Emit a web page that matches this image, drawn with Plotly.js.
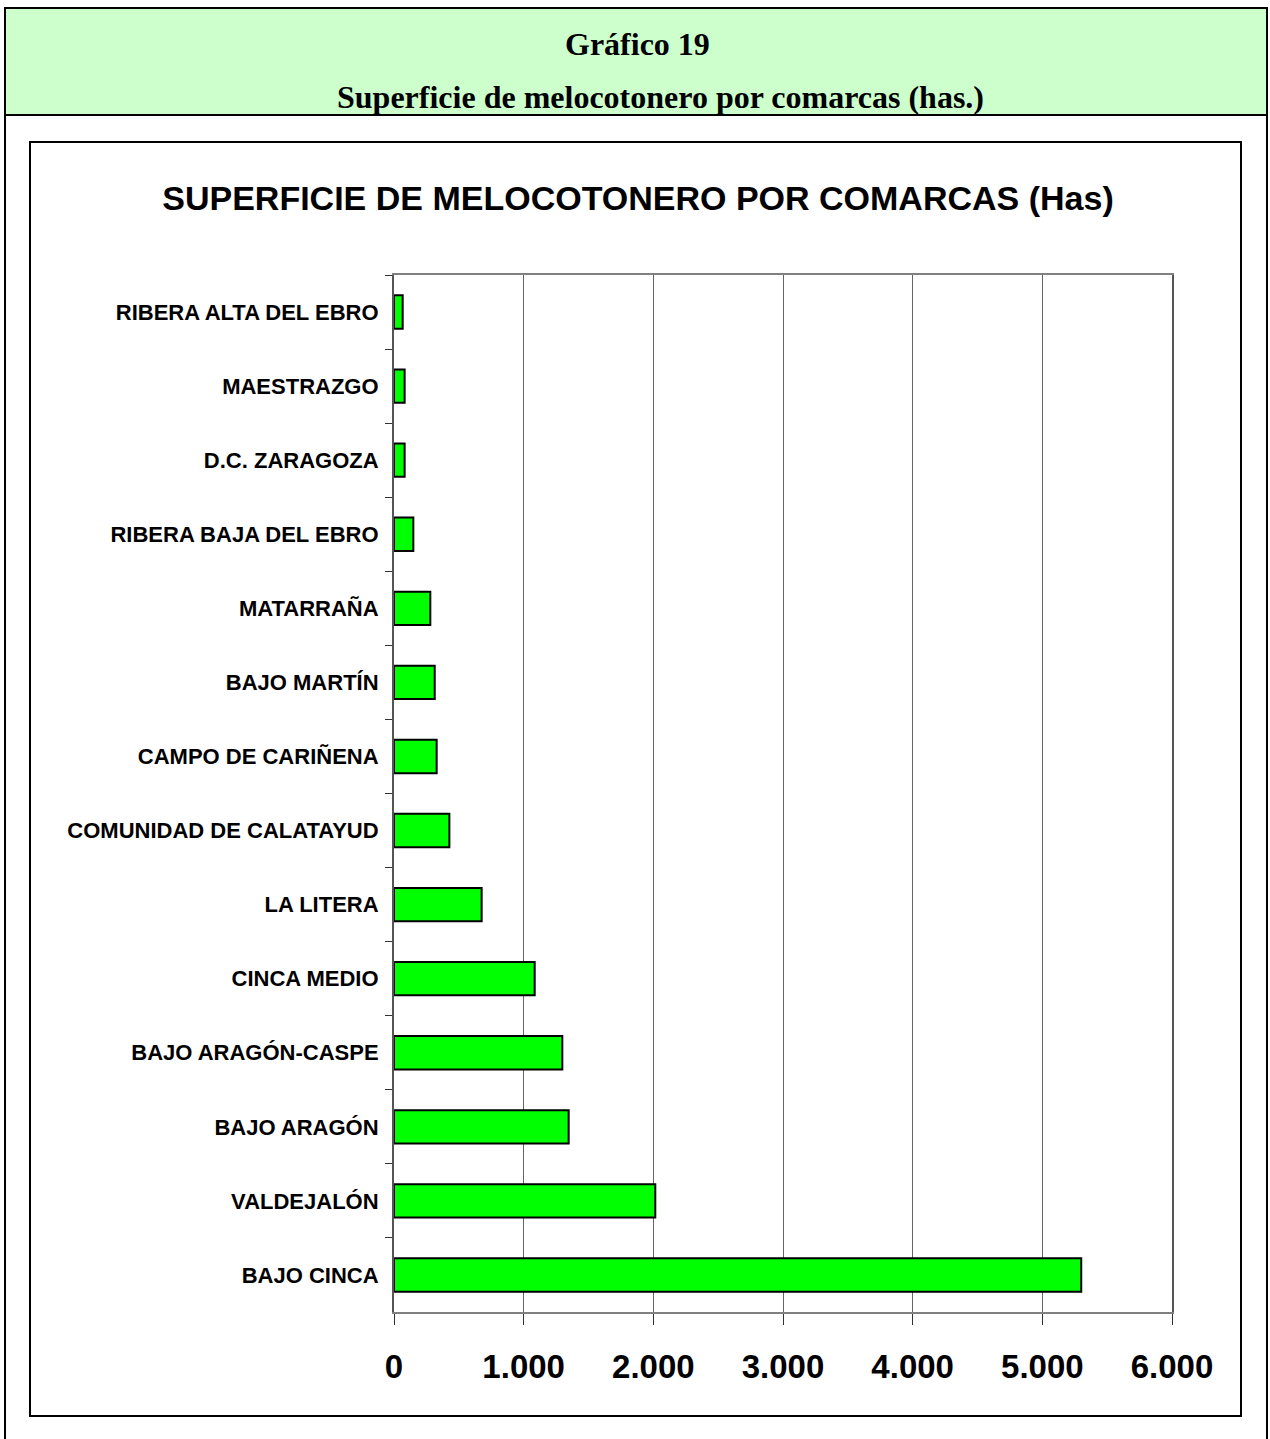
<!DOCTYPE html>
<html>
<head>
<meta charset="utf-8">
<script src="https://cdn.plot.ly/plotly-3.0.1.min.js"></script>
<style>
  html, body { margin: 0; padding: 0; background: #ffffff; }
  #chart { width: 1270px; height: 1439px; }
</style>
</head>
<body>
<div id="chart"></div>
<script>
// ---- Data ----
const comarcas = [
  "RIBERA ALTA DEL EBRO",
  "MAESTRAZGO",
  "D.C. ZARAGOZA",
  "RIBERA BAJA DEL EBRO",
  "MATARRAÑA",
  "BAJO MARTÍN",
  "CAMPO DE CARIÑENA",
  "COMUNIDAD DE CALATAYUD",
  "LA LITERA",
  "CINCA MEDIO",
  "BAJO ARAGÓN-CASPE",
  "BAJO ARAGÓN",
  "VALDEJALÓN",
  "BAJO CINCA"
];
const superficieHas = [67, 82, 82, 149, 280, 314, 329, 427, 676, 1085, 1298, 1347, 2015, 5300];
const xTickValues = [0, 1000, 2000, 3000, 4000, 5000, 6000];
const xTickLabels = ["0", "1.000", "2.000", "3.000", "4.000", "5.000", "6.000"];

const headerLine1 = "Gráfico 19";
const headerLine2 = "Superficie de melocotonero por comarcas (has.)";
const chartTitle = "SUPERFICIE DE MELOCOTONERO POR COMARCAS (Has)";

// ---- Layout geometry (pixels) ----
const W = 1270, H = 1439;
const plotL = 394, plotR = 1172, plotT = 275, plotB = 1312;
const pw = plotR - plotL, ph = plotB - plotT;
const px = x => (x - plotL) / pw;
const py = y => (plotB - y) / ph;

const shapes = [
  // header band
  {type: "rect", xref: "paper", yref: "paper", x0: px(5), x1: px(1267), y0: py(115), y1: py(8),
   fillcolor: "#CCFFCC", line: {color: "#000000", width: 2}, layer: "below"},
  // outer frame sides down to bottom
  {type: "line", xref: "paper", yref: "paper", x0: px(5), x1: px(5), y0: py(8), y1: py(1445),
   line: {color: "#000000", width: 2}},
  {type: "line", xref: "paper", yref: "paper", x0: px(1267), x1: px(1267), y0: py(8), y1: py(1445),
   line: {color: "#000000", width: 2}},
  // inner chart box
  {type: "rect", xref: "paper", yref: "paper", x0: px(30), x1: px(1241), y0: py(1416), y1: py(142),
   fillcolor: "rgba(0,0,0,0)", line: {color: "#000000", width: 2}, layer: "below"}
];

const annotations = [
  {xref: "paper", yref: "paper", x: px(637), y: py(44), text: headerLine1, showarrow: false,
   xanchor: "center", yanchor: "middle",
   font: {family: "Liberation Serif, Times New Roman, serif", size: 32, color: "#000000", weight: "bold"}},
  {xref: "paper", yref: "paper", x: px(660), y: py(97), text: headerLine2, showarrow: false,
   xanchor: "center", yanchor: "middle",
   font: {family: "Liberation Serif, Times New Roman, serif", size: 32, color: "#000000", weight: "bold"}}
];

const trace = {
  type: "bar",
  orientation: "h",
  y: comarcas,
  x: superficieHas,
  width: 0.45,
  marker: {color: "#00FF00", line: {color: "#000000", width: 2}},
  hoverinfo: "x+y"
};

const layout = {
  width: W, height: H,
  paper_bgcolor: "#ffffff",
  plot_bgcolor: "#ffffff",
  margin: {l: plotL, r: W - plotR, t: plotT, b: H - plotB, pad: 0},
  showlegend: false,
  title: {
    text: chartTitle,
    xref: "container", yref: "container",
    x: 638 / W, y: 1 - 198 / H, xanchor: "center", yanchor: "middle",
    font: {family: "Liberation Sans, Arial, sans-serif", size: 34, color: "#000000", weight: "bold"}
  },
  xaxis: {
    range: [0, 6000],
    tickvals: xTickValues,
    ticktext: xTickLabels,
    ticks: "outside", ticklen: 11, tickwidth: 1, tickcolor: "#333333",
    showgrid: true, gridcolor: "#666666", gridwidth: 1,
    showline: true, linecolor: "#808080", linewidth: 2, mirror: true,
    zeroline: false,
    ticklabelstandoff: 13,
    tickfont: {family: "Liberation Sans, Arial, sans-serif", size: 33, color: "#000000", weight: "bold"},
    fixedrange: true
  },
  yaxis: {
    type: "category",
    autorange: "reversed",
    tickson: "boundaries",
    ticks: "outside", ticklen: 7, tickwidth: 1, tickcolor: "#333333",
    showgrid: false,
    showline: true, linecolor: "#555555", linewidth: 2, mirror: true,
    ticklabelstandoff: 9,
    tickfont: {family: "Liberation Sans, Arial, sans-serif", size: 22, color: "#000000", weight: "bold"},
    fixedrange: true
  },
  shapes: shapes,
  annotations: annotations
};

Plotly.newPlot("chart", [trace], layout, {displayModeBar: false, staticPlot: true});
</script>
</body>
</html>
